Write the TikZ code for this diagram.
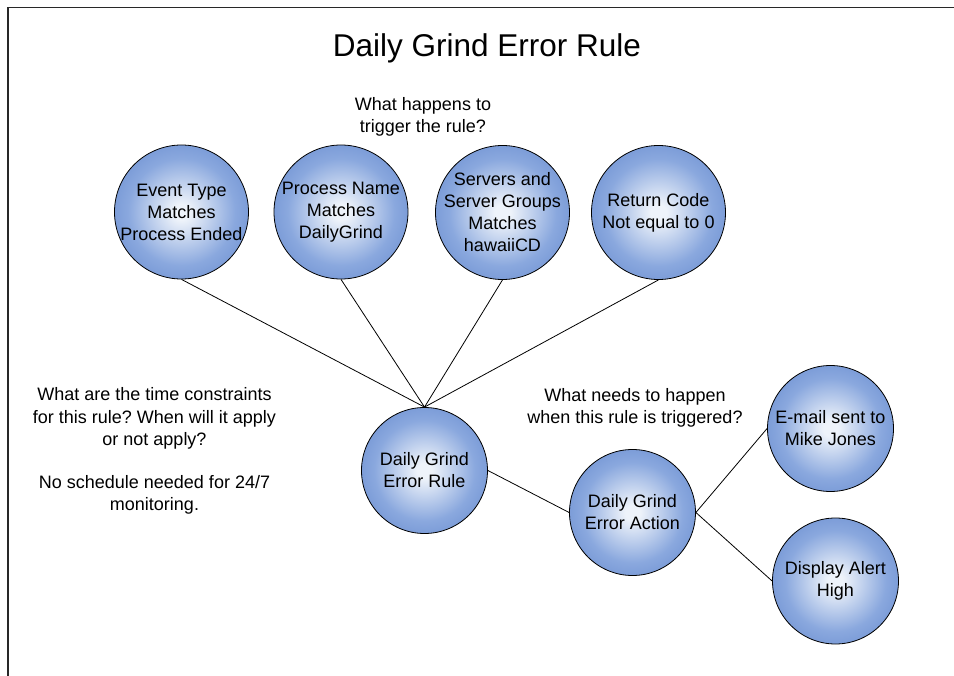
\documentclass[tikz,border=0pt]{standalone}
\usepackage{fontspec}
\setmainfont{Liberation Sans}
\definecolor{ballin}{RGB}{238,243,250}
\definecolor{ballmid}{RGB}{138,168,222}
\definecolor{ballmid2}{RGB}{92,130,202}
\definecolor{ballout}{RGB}{60,100,184}
\definecolor{framecol}{RGB}{40,40,40}
\pgfdeclareradialshading{ballshade}{\pgfpoint{0bp}{0bp}}{color(0bp)=(ballin); color(3bp)=(ballin); color(20bp)=(ballmid); color(37bp)=(ballmid2); color(50bp)=(ballout)}
\tikzset{
  ball/.style={circle, draw=black, line width=0.8pt, shading=ballshade, inner sep=0pt, minimum size=126pt},
  bigball/.style={ball, minimum size=134pt},
  balltext/.style={align=center, font=\fontsize{18}{22}\selectfont, inner sep=0pt},
  note/.style={align=center, font=\fontsize{18}{22.5}\selectfont, inner sep=0pt},
  link/.style={draw=black, line width=0.8pt},
}
\frenchspacing
\begin{document}
\begin{tikzpicture}[x=1pt,y=-1pt]
\useasboundingbox (0,0) rectangle (954,676);
\draw[framecol, line width=1.5pt] (8,676) -- (8,7.5) -- (954,7.5);

\node[anchor=base, font=\fontsize{31.5}{38}\selectfont, inner sep=0pt] (title) at (487,57) {Daily Grind Error Rule};

\node[note] (qtrig) at (423,117) {What happens to\\trigger the rule?};
\node[note] (qtime) at (154.5,451) {What are the time constraints\\for this rule? When will it apply\\or not apply?\\[20pt]No schedule needed for 24/7\\monitoring.};
\node[note] (qneed) at (635,408) {What needs to happen\\when this rule is triggered?};

\node[bigball] (ev) at (181.5,212) {};
\node[bigball] (pn) at (341,212) {};
\node[bigball] (sv) at (502.5,212.5) {};
\node[bigball] (rc) at (658.5,212.5) {};
\node[ball] (rule) at (424.5,470.5) {};
\node[ball] (act) at (632.5,512.5) {};
\node[ball] (mail) at (830.5,428.5) {};
\node[ball] (disp) at (835.5,581) {};

\node[balltext] at (ev) {Event Type\\Matches\\Process Ended};
\node[balltext] at (pn) {Process Name\\Matches\\DailyGrind};
\node[balltext] at (sv) {Servers and\\Server Groups\\Matches\\hawaiiCD};
\node[balltext] at (rc) {Return Code\\Not equal to 0};
\node[balltext] at (rule) {Daily Grind\\Error Rule};
\node[balltext] at (act) {Daily Grind\\Error Action};
\node[balltext] at (mail) {E-mail sent to\\Mike Jones};
\node[balltext] at (disp) {Display Alert\\High};

\draw[link] (ev.south) -- (rule.north);
\draw[link] (pn.south) -- (rule.north);
\draw[link] (sv.south) -- (rule.north);
\draw[link] (rc.south) -- (rule.north);
\draw[link] (rule.east) -- (act.west);
\draw[link] (act.east) -- (mail.west);
\draw[link] (act.east) -- (disp.west);
\end{tikzpicture}
\end{document}
